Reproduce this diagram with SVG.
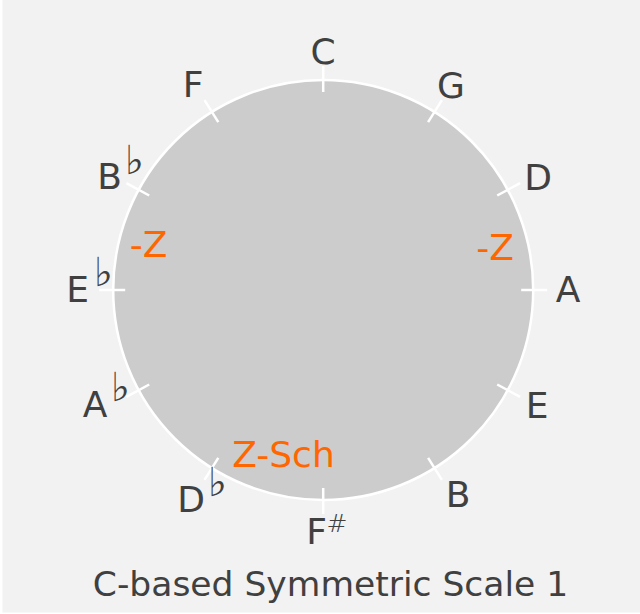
<svg xmlns="http://www.w3.org/2000/svg" width="640" height="614" viewBox="0 0 640 614">
<style>
.lbl{font-family:"DejaVu Sans",Verdana,sans-serif;font-size:36px;fill:#404040;text-anchor:middle}
.acc{font-family:"DejaVu Sans",Verdana,sans-serif;font-size:40px;font-weight:200;fill:#404040}
.sh{font-family:"DejaVu Sans",Verdana,sans-serif;font-size:25px;font-weight:200;fill:#404040}
.z{font-family:"DejaVu Sans",Verdana,sans-serif;font-size:36px;fill:#ff6600;text-anchor:middle}
.title{font-family:"DejaVu Sans",Verdana,sans-serif;font-size:34.5px;fill:#404040;text-anchor:middle}
.tick{stroke:#ffffff;stroke-width:2.5;fill:none}
</style>
<rect x="2.5" y="0" width="637.5" height="612.5" fill="#f2f2f2"/>
<g id="circle">
<circle cx="323.2" cy="290" r="210" fill="#cccccc" stroke="#ffffff" stroke-width="2.5"/>
</g>
<g id="connectors">
<line class="tick" x1="323.2" y1="92" x2="323.2" y2="66"/>
<line class="tick" x1="428.1" y1="122.1" x2="441.9" y2="100.1"/>
<line class="tick" x1="497.2" y1="195.5" x2="520.1" y2="183.1"/>
<line class="tick" x1="521.2" y1="290" x2="547.2" y2="290"/>
<line class="tick" x1="497.2" y1="384.5" x2="520.1" y2="396.9"/>
<line class="tick" x1="428.1" y1="457.9" x2="441.9" y2="479.9"/>
<line class="tick" x1="323.2" y1="488" x2="323.2" y2="514"/>
<line class="tick" x1="218.3" y1="457.9" x2="204.5" y2="479.9"/>
<line class="tick" x1="149.2" y1="384.5" x2="126.4" y2="396.9"/>
<line class="tick" x1="125.2" y1="290" x2="99.2" y2="290"/>
<line class="tick" x1="149.2" y1="195.5" x2="126.4" y2="183.1"/>
<line class="tick" x1="218.3" y1="122.1" x2="204.5" y2="100.1"/>
</g>
<g id="note-C"><text class="lbl" x="323" y="64">C</text></g>
<g id="note-G"><text class="lbl" x="451" y="98">G</text></g>
<g id="note-D"><text class="lbl" x="538" y="190">D</text></g>
<g id="note-A"><text class="lbl" x="568" y="302">A</text></g>
<g id="note-E"><text class="lbl" x="537" y="418">E</text></g>
<g id="note-B"><text class="lbl" x="458" y="507">B</text></g>
<g id="note-Fs"><text class="lbl" x="316.5" y="544">F</text><text class="sh" x="326.5" y="532">#</text></g>
<g id="note-Db"><text class="acc" x="208" y="496">♭&#xFE0E;</text><text class="lbl" x="191" y="512">D</text></g>
<g id="note-Ab"><text class="acc" x="111" y="401">♭&#xFE0E;</text><text class="lbl" x="95" y="417">A</text></g>
<g id="note-Eb"><text class="acc" x="94" y="286">♭&#xFE0E;</text><text class="lbl" x="77.5" y="302">E</text></g>
<g id="note-Bb"><text class="acc" x="125" y="174">♭&#xFE0E;</text><text class="lbl" x="109.5" y="189">B</text></g>
<g id="note-F"><text class="lbl" x="193" y="97">F</text></g>
<g id="mark-left"><text class="z" x="148.5" y="257">-Z</text></g>
<g id="mark-right"><text class="z" x="495" y="260">-Z</text></g>
<g id="mark-bottom"><text class="z" x="283.5" y="467">Z-Sch</text></g>
<g id="title"><text class="title" x="330.5" y="596">C-based Symmetric Scale 1</text></g>
</svg>
